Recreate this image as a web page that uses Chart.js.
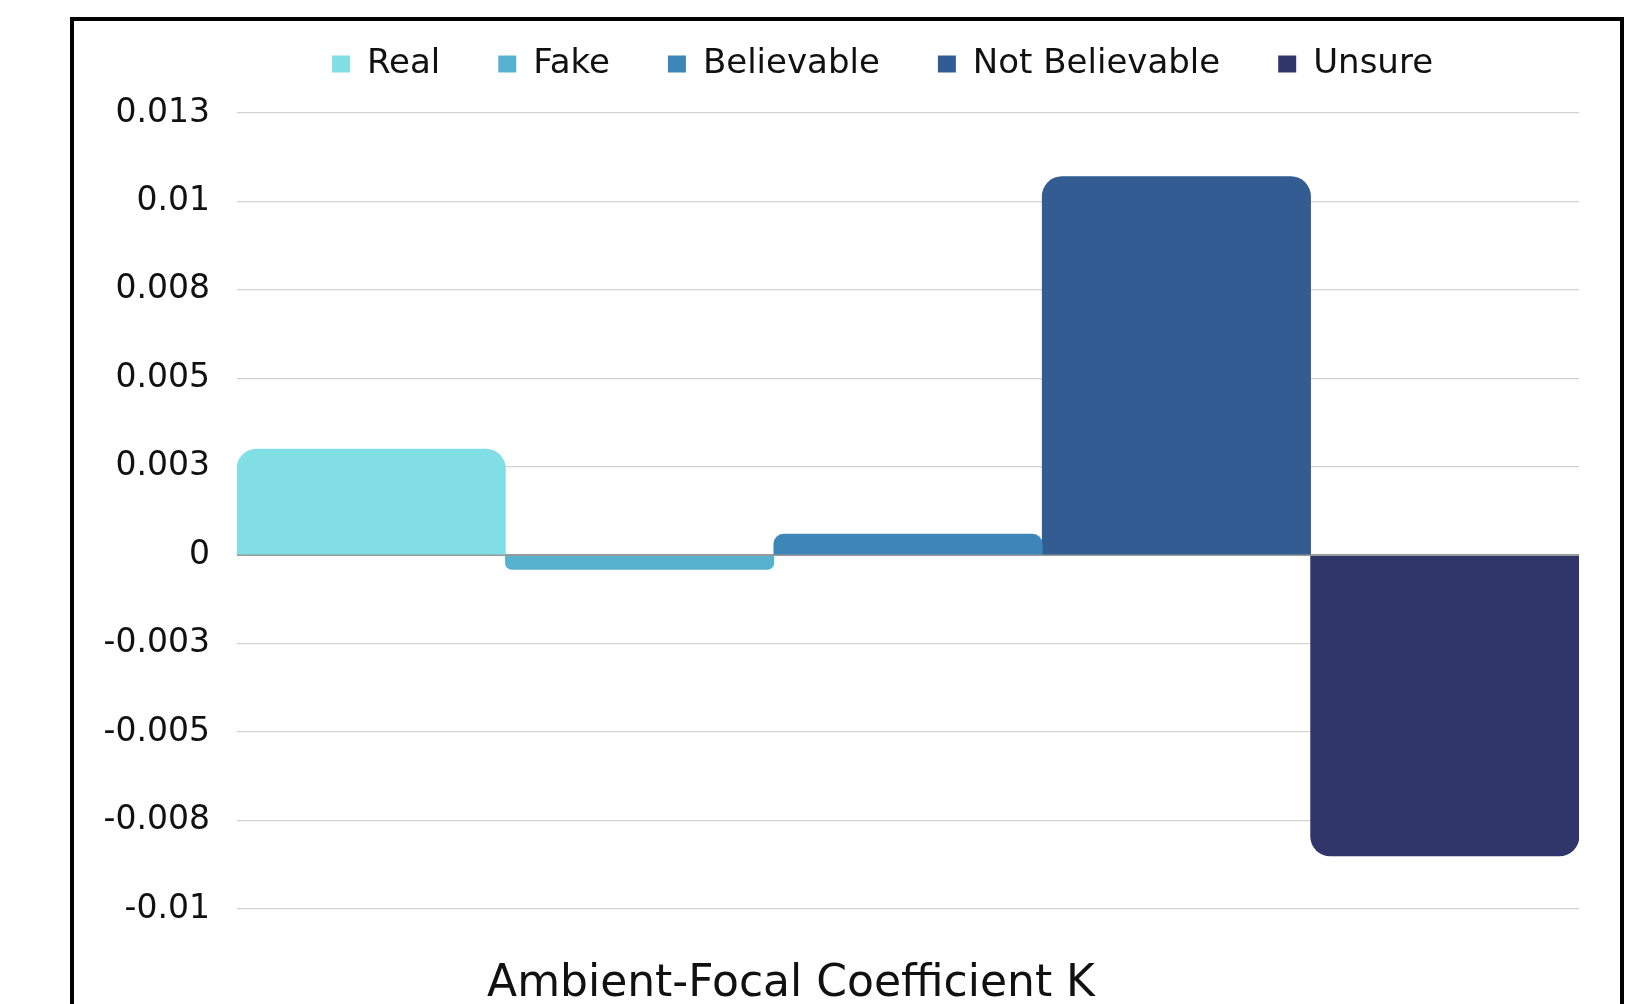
<!DOCTYPE html>
<html>
<head>
<meta charset="utf-8">
<script src="https://cdn.jsdelivr.net/npm/chart.js@4.4.1/dist/chart.umd.min.js"></script>
<style>
html,body{margin:0;padding:0;background:#ffffff;overflow:hidden;width:1645px;height:1004px;}
#frame{position:absolute;left:70px;top:17px;width:1554px;height:1100px;border:4px solid #000;box-sizing:border-box;}
#wrap{position:absolute;left:0;top:0;width:1645px;height:1004px;}
</style>
</head>
<body>
<div id="frame"></div>
<div id="wrap"><canvas id="c" width="1645" height="1004"></canvas></div>
<script>
// ---- data ----
const categories = ['Ambient-Focal Coefficient K'];
const seriesNames = ['Real', 'Fake', 'Believable', 'Not Believable', 'Unsure'];
const realValues = [0.0030];
const fakeValues = [-0.0004];
const believableValues = [0.0006];
const notBelievableValues = [0.0107];
const unsureValues = [-0.0085];
const yTickValues = [-0.01, -0.0075, -0.005, -0.0025, 0, 0.0025, 0.005, 0.0075, 0.01, 0.0125];
const yTickLabels = ['-0.01', '-0.008', '-0.005', '-0.003', '0', '0.003', '0.005', '0.008', '0.01', '0.013'];

// ---- style ----
const palette = ['#80DEE4', '#56B2CF', '#3D86B8', '#325C92', '#31366A'];
const allSeries = [realValues, fakeValues, believableValues, notBelievableValues, unsureValues];

const legendFix = {
  id: 'legendFix',
  beforeLayout(chart) {
    const lg = chart.legend;
    if (lg && !lg.__patched) {
      const orig = lg.fit.bind(lg);
      lg.fit = function () { orig(); this.height = 113; };
      lg.__patched = true;
    }
  },
  afterLayout(chart) {
    const lg = chart.legend;
    if (lg) {
      const ih = lg._itemHeight || 40;
      const pad = lg.options.labels.padding;
      const shift = 67 - (pad + ih / 2);
      lg.top = shift;
      lg.bottom = shift + lg.height;
      lg.left = 186;
    }
  }
};

new Chart(document.getElementById('c'), {
  type: 'bar',
  data: {
    labels: categories,
    datasets: seriesNames.map((name, i) => ({
      label: name,
      data: allSeries[i],
      backgroundColor: palette[i],
      borderWidth: 0,
      borderRadius: 20,
      categoryPercentage: 1,
      barPercentage: 1
    }))
  },
  plugins: [legendFix],
  options: {
    responsive: false,
    animation: false,
    layout: { padding: { left: 80, right: 66, top: 0, bottom: 0 } },
    plugins: {
      tooltip: { enabled: false },
      legend: {
        position: 'top',
        align: 'center',
        labels: {
          boxWidth: 18,
          boxHeight: 17,
          padding: 58,
          color: '#111111',
          font: { family: 'DejaVu Sans', size: 34 }
        }
      }
    },
    scales: {
      x: {
        grid: { display: false, drawTicks: false },
        border: { display: false },
        ticks: {
          color: '#111111',
          font: { family: 'DejaVu Sans', size: 44 },
          padding: 49,
          labelOffset: -117,
          maxRotation: 0
        },
        afterFit(s) { s.height = 95; }
      },
      y: {
        min: -0.01,
        max: 0.0125,
        afterBuildTicks(s) { s.ticks = yTickValues.map(v => ({ value: v })); },
        grid: {
          drawTicks: false,
          color: ctx => (ctx.tick && Math.abs(ctx.tick.value) < 1e-12) ? '#9a9a9a' : '#d2d2d2',
          lineWidth: ctx => (ctx.tick && Math.abs(ctx.tick.value) < 1e-12) ? 2 : 1.3
        },
        border: { display: false },
        ticks: {
          color: '#111111',
          padding: 27,
          font: { family: 'DejaVu Sans', size: 33 },
          callback: function (v) {
            const i = yTickValues.findIndex(t => Math.abs(t - v) < 1e-9);
            return i >= 0 ? yTickLabels[i] : '';
          }
        },
        afterFit(s) { s.width = 237 - 80; }
      }
    }
  }
});
</script>
</body>
</html>
